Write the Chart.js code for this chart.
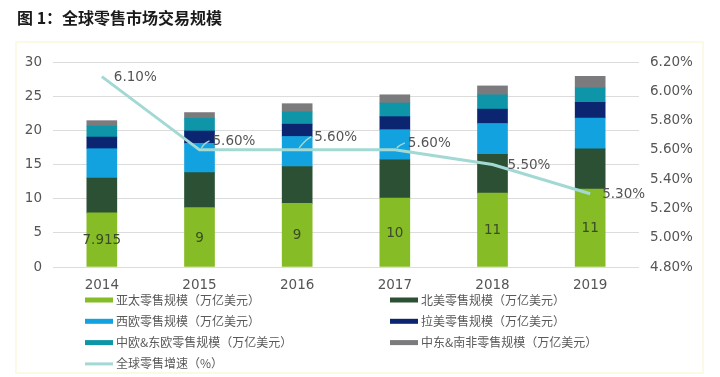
<!DOCTYPE html>
<html>
<head>
<meta charset="utf-8">
<script src="https://cdn.jsdelivr.net/npm/chart.js@4/dist/chart.umd.min.js"></script>
<style>
html,body{margin:0;padding:0;background:#fff;}
#wrap{width:720px;height:377px;position:relative;}
</style>
</head>
<body>
<div id="wrap"><canvas id="c" width="720" height="377"></canvas></div>
<script>
const years = ['2014','2015','2016','2017','2018','2019'];
const asiaPacific   = [7.915, 8.7, 9.3, 10.1, 10.8, 11.4];
const northAmerica  = [5.1, 5.1, 5.4, 5.6, 5.7, 5.9];
const westEurope    = [4.3, 4.3, 4.4, 4.4, 4.5, 4.5];
const latinAmerica  = [1.7, 1.8, 1.8, 1.9, 2.1, 2.3];
const cEastEurope   = [1.6, 1.85, 1.8, 2.0, 2.1, 2.1];
const meAfrica      = [0.8, 0.85, 1.2, 1.2, 1.3, 1.7];
const growthRate    = [6.10, 5.60, 5.60, 5.60, 5.50, 5.30];
const apDataLabels  = ['7.915','9','9','10','11','11'];
const seriesNames = ['亚太零售规模（万亿美元）','北美零售规模（万亿美元）','西欧零售规模（万亿美元）','拉美零售规模（万亿美元）','中欧&东欧零售规模（万亿美元）','中东&南非零售规模（万亿美元）','全球零售增速（%）'];
const titleText = '图 1：全球零售市场交易规模';

const colors = ['#86bc25','#2b5033','#12a2df','#0b2571','#0e95a8','#7b7b7d','#a3d9d4'];
const tickFont = {family:'"DejaVu Sans", Verdana, sans-serif', size:13.5};
const tickColor = '#555555';

const barSets = [asiaPacific, northAmerica, westEurope, latinAmerica, cEastEurope, meAfrica].map((d,i)=>({
  type:'bar', label: seriesNames[i], data: d, backgroundColor: colors[i],
  yAxisID:'y', stack:'s', order:1, barThickness:30, borderWidth:0
}));
const lineSet = {type:'line', label: seriesNames[6], data: growthRate, borderColor: colors[6],
  backgroundColor: colors[6], borderWidth:3, pointRadius:0, tension:0, yAxisID:'y1', order:0};

const lineLabelOffsets = [[12,0],[13,-9],[17,-13],[13,-7],[15,0],[12,0]];

const decor = {
  id:'decor',
  beforeDraw(chart){
    const ctx = chart.ctx;
    ctx.save();
    ctx.strokeStyle = '#fafae6';
    ctx.lineWidth = 2;
    ctx.strokeRect(16, 42, 687, 331);
    ctx.fillStyle = '#1a1a1a';
    ctx.font = 'bold 16px "Noto Sans CJK SC", sans-serif';
    ctx.textBaseline = 'middle';
    ctx.textAlign = 'left';
    ctx.fillText(titleText, 17, 18);
    ctx.restore();
  },
  afterDatasetsDraw(chart){
    const ctx = chart.ctx;
    ctx.save();
    const apMeta = chart.getDatasetMeta(0);
    ctx.font = '13.5px "DejaVu Sans", sans-serif';
    ctx.fillStyle = '#3a4a2a';
    ctx.textAlign = 'center';
    ctx.textBaseline = 'middle';
    apMeta.data.forEach((bar,i)=>{
      const cy = (bar.y + bar.base)/2;
      ctx.fillText(apDataLabels[i], bar.x, cy + 1);
    });
    const lm = chart.getDatasetMeta(6);
    ctx.fillStyle = '#555555';
    ctx.textAlign = 'left';
    lm.data.forEach((pt,i)=>{
      const [dx,dy] = lineLabelOffsets[i];
      const lx = pt.x + dx, ly = pt.y + dy;
      if (dy < 0) {
        ctx.strokeStyle = colors[6];
        ctx.lineWidth = 1.5;
        ctx.beginPath();
        ctx.moveTo(pt.x + 2, pt.y - 2);
        ctx.quadraticCurveTo(lx - 8, ly + 2, lx - 3, ly);
        ctx.stroke();
      }
      ctx.fillText(growthRate[i].toFixed(2) + '%', lx, ly + 1);
    });
    ctx.restore();
  },
  afterDraw(chart){
    const ctx = chart.ctx;
    ctx.save();
    ctx.font = '12px "Noto Sans CJK SC", sans-serif';
    ctx.textBaseline = 'middle';
    ctx.textAlign = 'left';
    chart.data.datasets.forEach((ds,i)=>{
      const col = i % 2, row = Math.floor(i/2);
      const x = col === 0 ? 85 : 390;
      const y = 300 + row * 21.3;
      if (ds.type === 'line') {
        ctx.strokeStyle = ds.borderColor; ctx.lineWidth = 3;
        ctx.beginPath(); ctx.moveTo(x, y); ctx.lineTo(x+28, y); ctx.stroke();
      } else {
        ctx.fillStyle = ds.backgroundColor;
        ctx.fillRect(x, y-2.5, 28, 5);
      }
      ctx.fillStyle = '#595959';
      ctx.fillText(ds.label, x + 31, y);
    });
    ctx.restore();
  }
};

new Chart(document.getElementById('c'), {
  data: { labels: years, datasets: [...barSets, lineSet] },
  options: {
    responsive:false, animation:false,
    layout:{padding:{top:62,left:0,right:0,bottom:0}},
    plugins:{legend:{display:false}, tooltip:{enabled:false}, title:{display:false}},
    scales:{
      x:{stacked:true, grid:{display:false, drawTicks:false}, border:{display:false},
         ticks:{font:tickFont, color:tickColor, padding:10},
         afterFit(s){ s.height = 110; }},
      y:{stacked:true, position:'left', min:0, max:30,
         ticks:{stepSize:5, font:tickFont, color:tickColor, padding:11},
         grid:{color:'#dcdcdc', lineWidth:1, drawTicks:false}, border:{display:false},
         afterFit(s){ s.width = 53; }},
      y1:{position:'right', min:4.8, max:6.2, stacked:false,
         ticks:{stepSize:0.2, font:tickFont, color:tickColor, padding:11,
                callback:(v)=>Number(v).toFixed(2)+'%'},
         grid:{display:false, drawTicks:false}, border:{display:false},
         afterFit(s){ s.width = 81; }}
    }
  },
  plugins:[decor]
});
</script>
</body>
</html>
